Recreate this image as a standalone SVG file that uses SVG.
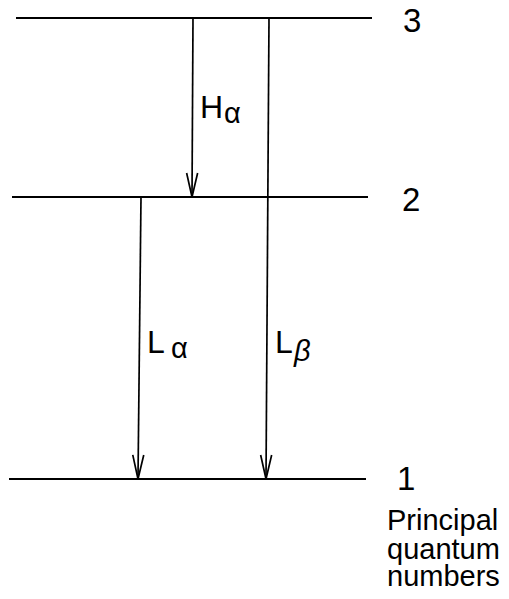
<svg xmlns="http://www.w3.org/2000/svg" width="509" height="599" viewBox="0 0 509 599">
  <style>
    .lvl { stroke: #000; stroke-width: 2; fill: none; }
    .arr { stroke: #000; stroke-width: 1.7; fill: none; marker-end: url(#vhead); }
    .num { font-family: "Liberation Sans", Arial, sans-serif; font-size: 33px; fill: #000; }
    .lab { font-family: "Liberation Sans", Arial, sans-serif; font-size: 32px; fill: #000; }
    .sub { font-family: "Liberation Sans", Arial, sans-serif; font-size: 29px; fill: #000; }
    .cap { font-family: "Liberation Sans", Arial, sans-serif; font-size: 29px; fill: #000; }
  </style>
  <defs>
    <marker id="vhead" markerUnits="userSpaceOnUse" markerWidth="30" markerHeight="16" viewBox="-26 -8 28 16" refX="0" refY="0" orient="auto">
      <path d="M-24,-5.5 L0,0 L-24,5.5" fill="none" stroke="#000" stroke-width="1.7"/>
    </marker>
  </defs>
  <rect width="509" height="599" fill="#fff"/>

  <g id="level3">
    <line class="lvl" x1="16" y1="18" x2="372" y2="18"/>
    <text class="num" x="403" y="32">3</text>
  </g>
  <g id="level2">
    <line class="lvl" x1="12" y1="197" x2="368" y2="197"/>
    <text class="num" x="402" y="211">2</text>
  </g>
  <g id="level1">
    <line class="lvl" x1="9" y1="479" x2="366" y2="479"/>
    <text class="num" x="397" y="490">1</text>
    <text class="cap" x="387" y="530">Principal<tspan x="387" y="559">quantum</tspan><tspan x="387" y="586">numbers</tspan></text>
  </g>

  <g id="connectors">
    <line class="arr" x1="193" y1="18" x2="192" y2="197"/>
    <line class="arr" x1="141" y1="197" x2="138" y2="479"/>
    <line class="arr" x1="269" y1="18" x2="266" y2="479"/>
    <text class="lab" x="200" y="118">H</text>
    <text class="sub" x="224" y="123">α</text>
    <text class="lab" x="147" y="353">L</text>
    <text class="sub" x="171" y="358">α</text>
    <text class="lab" x="275" y="353">L</text>
    <text class="sub" x="294" y="361" font-style="italic">β</text>
  </g>
</svg>
